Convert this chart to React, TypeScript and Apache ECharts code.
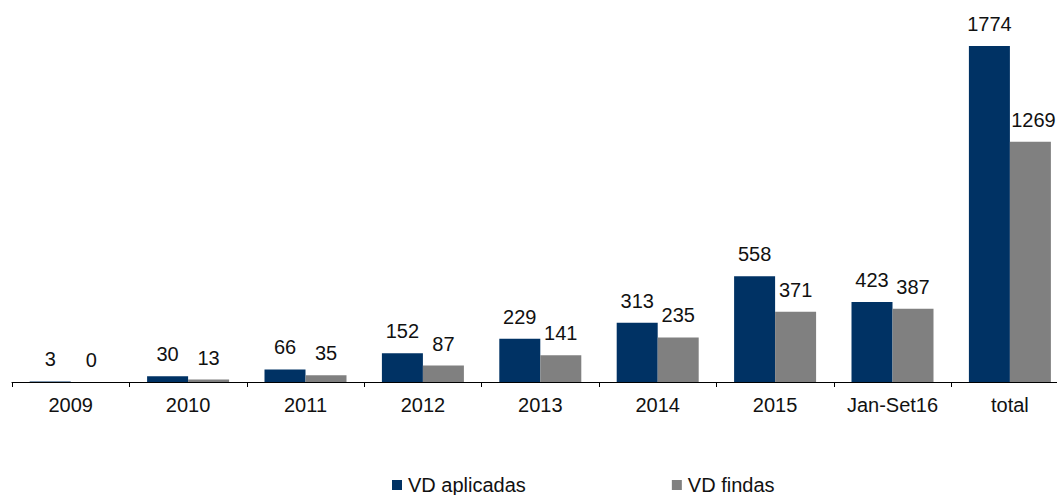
import React, { useEffect, useRef } from "react";
import * as echarts from "echarts";

const categories = ["2009", "2010", "2011", "2012", "2013", "2014", "2015", "Jan-Set16", "total"];
const aplicadas = [3, 30, 66, 152, 229, 313, 558, 423, 1774];
const findas = [0, 13, 35, 87, 141, 235, 371, 387, 1269];
const seriesNames = ["VD aplicadas", "VD findas"];

const FONT = "'Liberation Sans', Arial, sans-serif";

export default function App() {
  const ref = useRef<HTMLDivElement>(null);
  useEffect(() => {
    if (!ref.current) return;
    const chart = echarts.init(ref.current, undefined, { renderer: "svg" });
    const label = {
      show: true,
      position: "top" as const,
      distance: 12,
      color: "#111",
      fontSize: 20,
      fontFamily: FONT,
    };
    const last = findas.length - 1;
    chart.setOption({
      animation: false,
      grid: { left: 12, top: 3.2, width: 1056.6, height: 378.8, containLabel: false },
      legend: {
        left: 387,
        top: 470,
        itemWidth: 10,
        itemHeight: 10,
        itemGap: 146,
        icon: "rect",
        textStyle: { fontSize: 20, fontFamily: FONT, color: "#111", padding: [0, 0, 0, 1] },
        data: seriesNames,
      },
      xAxis: {
        type: "category",
        data: categories,
        axisLine: { lineStyle: { color: "#000", width: 1 } },
        axisTick: { show: true, length: 5, lineStyle: { color: "#000" } },
        axisLabel: { fontSize: 20, fontFamily: FONT, color: "#111", margin: 13, interval: 0 },
      },
      yAxis: {
        type: "value",
        min: 0,
        max: 2000,
        show: false,
        splitLine: { show: false },
      },
      series: [
        {
          name: seriesNames[0],
          type: "bar",
          data: aplicadas,
          barWidth: 41,
          barGap: "0%",
          itemStyle: { color: "#003264" },
          label,
        },
        {
          name: seriesNames[1],
          type: "bar",
          data: findas.map((v, i) => (i === last ? { value: v, label: { offset: [3, 0] } } : v)),
          barWidth: 41,
          barGap: "0%",
          itemStyle: { color: "#808080" },
          label,
        },
      ],
    });
    return () => chart.dispose();
  }, []);
  return (
    <div
      style={{ position: "absolute", left: 0, top: 0, width: 1057, height: 495, overflow: "hidden", background: "#fff" }}
    >
      <div ref={ref} style={{ width: 1080, height: 495 }} />
    </div>
  );
}
